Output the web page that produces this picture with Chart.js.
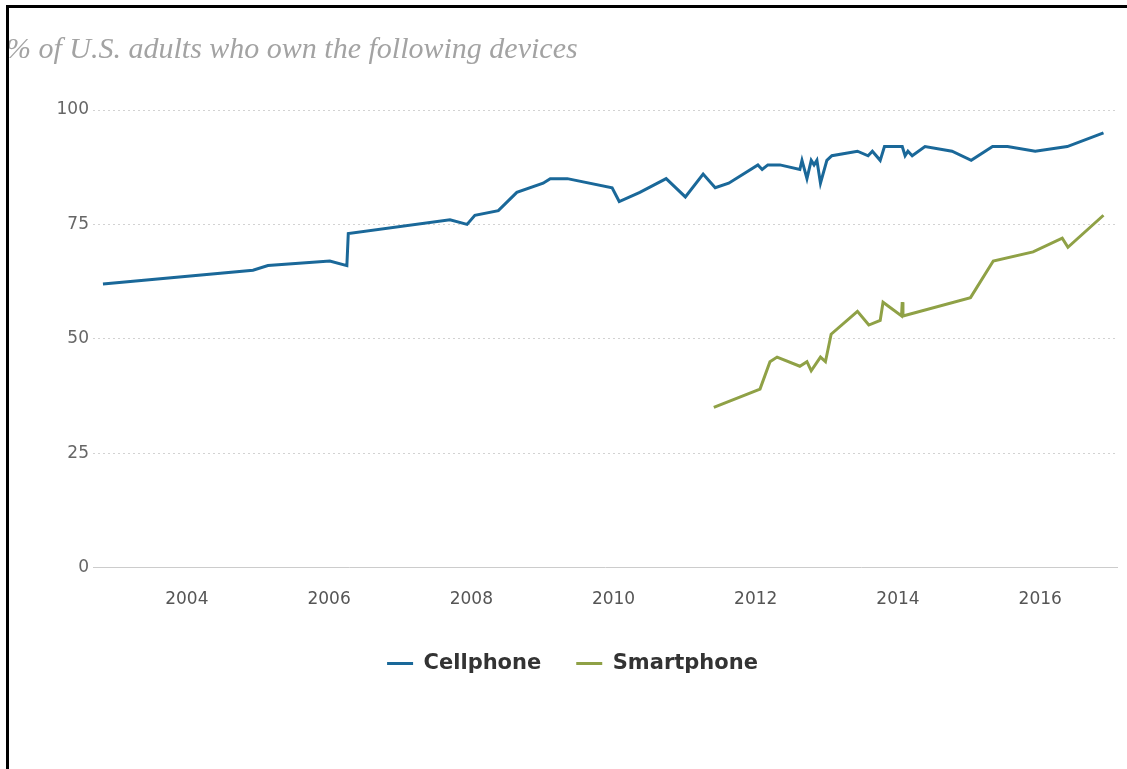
<!DOCTYPE html>
<html>
<head>
<meta charset="utf-8">
<script src="https://cdn.jsdelivr.net/npm/chart.js@4"></script>
<style>
  html, body { margin: 0; padding: 0; background: #fff; }
  body { width: 1127px; height: 769px; position: relative; overflow: hidden; }
  #frame {
    position: absolute; left: 6px; top: 5px; right: -10px; bottom: -10px;
    border-left: 3px solid #000; border-top: 3px solid #000;
    z-index: 2; pointer-events: none;
  }
  #title {
    position: absolute; left: 6px; top: 31px;
    font-family: "Liberation Serif", "DejaVu Serif", serif;
    font-style: italic; font-size: 30px; color: #a3a3a3; white-space: nowrap;
  }
  #chart { position: absolute; left: 0; top: 0; }
</style>
</head>
<body>
<div id="frame"></div>
<canvas id="chart" width="1127" height="769"></canvas>
<div id="title">% of U.S. adults who own the following devices</div>
<script>
// survey dates as decimal years
const cellYears = [2002.82, 2004.93, 2005.14, 2006.01, 2006.25, 2006.27, 2007.70, 2007.94, 2008.05, 2008.38,
  2008.64, 2009.01, 2009.11, 2009.35, 2009.98, 2010.08, 2010.37, 2010.74, 2011.01, 2011.26,
  2011.43, 2011.62, 2012.03, 2012.09, 2012.17, 2012.34, 2012.62, 2012.65, 2012.72, 2012.78,
  2012.82, 2012.86, 2012.91, 2013.00, 2013.07, 2013.43, 2013.58, 2013.64, 2013.75, 2013.81,
  2014.06, 2014.10, 2014.14, 2014.20, 2014.38, 2014.76, 2015.03, 2015.33, 2015.54, 2015.93,
  2016.38, 2016.89];
const cellValues = [62, 65, 66, 67, 66, 73, 76, 75, 77, 78,
  82, 84, 85, 85, 83, 80, 82, 85, 81, 86,
  83, 84, 88, 87, 88, 88, 87, 89, 85, 89,
  88, 89, 84, 89, 90, 91, 90, 91, 89, 92,
  92, 90, 91, 90, 92, 91, 89, 92, 92, 91,
  92, 95];

const smartYears = [2011.41, 2012.06, 2012.20, 2012.30, 2012.62, 2012.72, 2012.78, 2012.91, 2012.98, 2013.06,
  2013.43, 2013.59, 2013.75, 2013.79, 2014.05, 2014.06, 2014.07, 2015.02, 2015.34, 2015.90,
  2016.31, 2016.39, 2016.89];
const smartValues = [35, 39, 45, 46, 44, 45, 43, 46, 45, 51,
  56, 53, 54, 58, 55, 58, 55, 59, 67, 69,
  72, 70, 77];

const xTicks = [2004, 2006, 2008, 2010, 2012, 2014, 2016];
const yTicks = [0, 25, 50, 75, 100];

const toPoints = (xs, ys) => xs.map((x, i) => ({ x: x, y: ys[i] }));

const ctx = document.getElementById("chart");
const chart = new Chart(ctx, {
  type: "line",
  data: {
    datasets: [
      {
        label: "Cellphone",
        data: toPoints(cellYears, cellValues),
        borderColor: "#1a6899",
        backgroundColor: "#1a6899",
        borderWidth: 3,
        pointRadius: 0,
        tension: 0,
      },
      {
        label: "Smartphone",
        data: toPoints(smartYears, smartValues),
        borderColor: "#8fa146",
        backgroundColor: "#8fa146",
        borderWidth: 3,
        pointRadius: 0,
        tension: 0,
      },
    ],
  },
  options: {
    responsive: false,
    animation: false,
    layout: { padding: { left: 28, right: 10, top: 110, bottom: 85 } },
    scales: {
      x: {
        type: "linear",
        min: 2002.68,
        max: 2017.08,
        afterBuildTicks: (axis) => {
          axis.ticks = xTicks.map((v) => ({ value: v }));
        },
        afterFit: (axis) => {
          axis.height -= 14;
        },
        grid: { display: false, drawTicks: false },
        border: { display: true, color: "#cccccc", width: 1 },
        ticks: {
          padding: 22,
          color: "#555",
          font: { family: "DejaVu Sans", size: 17 },
          callback: (v) => String(v),
        },
      },
      y: {
        min: 0,
        max: 100,
        afterBuildTicks: (axis) => {
          axis.ticks = yTicks.map((v) => ({ value: v }));
        },
        afterFit: (axis) => {
          axis.width = 65;
        },
        grid: {
          drawTicks: false,
          color: (c) => (c.tick && c.tick.value === 0 ? "rgba(0,0,0,0)" : "#d2d2d2"),
        },
        border: { display: false, dash: [2, 3] },
        ticks: {
          padding: 4,
          color: "#666",
          font: { family: "DejaVu Sans", size: 17 },
        },
      },
    },
    plugins: {
      legend: {
        position: "bottom",
        labels: {
          usePointStyle: true,
          pointStyle: "line",
          pointStyleWidth: 26,
          padding: 35,
          color: "#333",
          font: { family: "DejaVu Sans", size: 21, weight: "bold" },
        },
      },
      tooltip: { enabled: false },
    },
  },
});
</script>
</body>
</html>
